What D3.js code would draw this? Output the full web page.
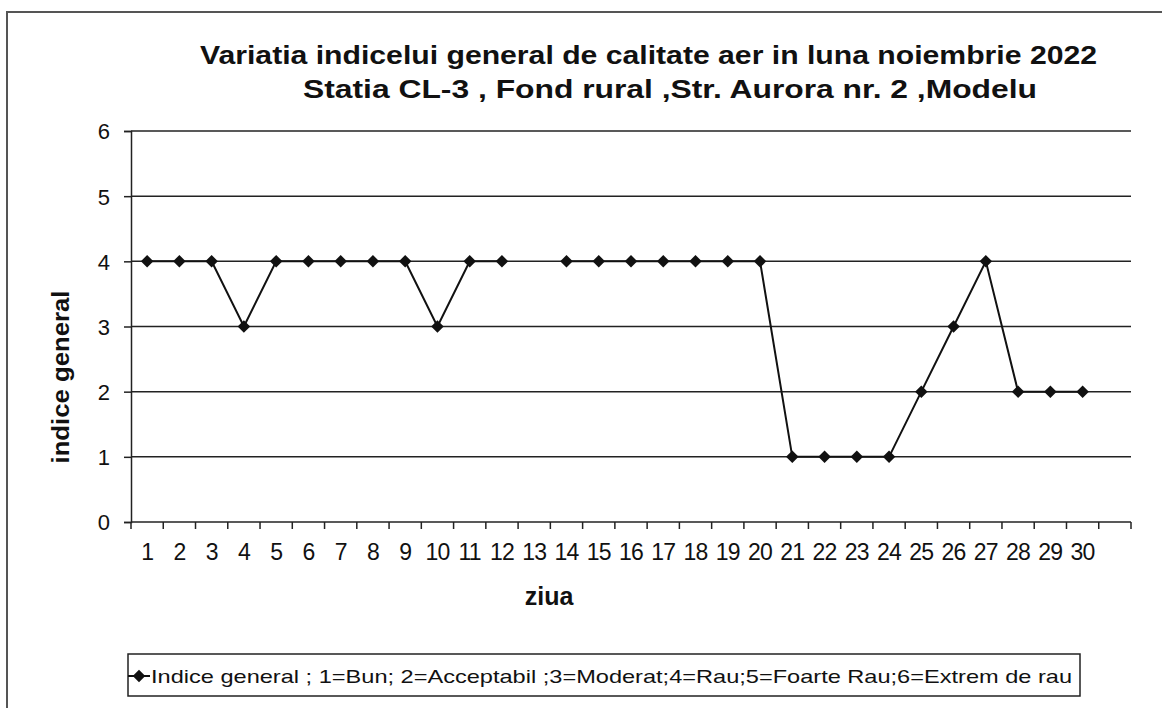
<!DOCTYPE html>
<html>
<head>
<meta charset="utf-8">
<script src="https://cdn.jsdelivr.net/npm/d3@7"></script>
<style>
  body { margin: 0; background: #fff; }
  text { font-family: "Liberation Sans", Arial, sans-serif; fill: #111; }
</style>
</head>
<body>
<div id="vis"></div>
<script>
// days of november (one empty slot at the end, like the excel sheet)
var days = ["1","2","3","4","5","6","7","8","9","10","11","12","13","14","15",
            "16","17","18","19","20","21","22","23","24","25","26","27","28","29","30",""];
// general index per day, day 13 has no data
var indice = [4,4,4,3,4,4,4,4,4,3,4,4,null,4,4,4,4,4,4,4,1,1,1,1,2,3,4,2,2,2];
var yTicks = [0,1,2,3,4,5,6];
var titleLines = ["Variatia indicelui general de calitate aer in luna noiembrie 2022",
                  "Statia CL-3 , Fond rural ,Str. Aurora nr. 2 ,Modelu"];
var legendText = "Indice  general ; 1=Bun; 2=Acceptabil ;3=Moderat;4=Rau;5=Foarte Rau;6=Extrem de rau";

var width = 1162, height = 708;
var margin = { top: 131, left: 131, bottom: 186, right: 31 };

var svg = d3.select('#vis').append('svg')
    .attr('width', width)
    .attr('height', height);

// outer frame of the chart area
svg.append('rect')
    .attr('x', 7).attr('y', 12)
    .attr('width', 1200).attr('height', 800)
    .style('fill', 'none')
    .style('stroke', '#555')
    .style('stroke-width', 2);

var x = d3.scaleBand()
    .domain(days)
    .range([margin.left, width - margin.right]);

var y = d3.scaleLinear()
    .domain([0, 6])
    .range([height - margin.bottom, margin.top]);

// gridlines
svg.append('g')
    .selectAll('line')
    .data(yTicks.filter(function (d) { return d > 0; }))
    .enter().append('line')
    .attr('x1', margin.left)
    .attr('x2', width - margin.right)
    .attr('y1', function (d) { return y(d); })
    .attr('y2', function (d) { return y(d); })
    .style('stroke', '#222')
    .style('stroke-width', 1.5);

// y axis
var yAxis = svg.append('g')
    .attr('transform', 'translate(' + margin.left + ',0)')
    .call(d3.axisLeft(y).tickValues(yTicks).tickSize(7).tickPadding(14).tickFormat(d3.format('d')));
yAxis.select('.domain').style('stroke', '#222').style('stroke-width', 1.5);
yAxis.selectAll('.tick line').style('stroke', '#222').style('stroke-width', 1.5);
yAxis.selectAll('text')
    .style('font-size', '22px')
    .attr('dy', '0.36em');

// x axis, ticks between categories
var bounds = d3.range(days.length + 1).map(function (i) {
  return margin.left + i * x.step();
});
var xg = svg.append('g');
xg.append('line')
    .attr('x1', margin.left)
    .attr('x2', width - margin.right)
    .attr('y1', y(0)).attr('y2', y(0))
    .style('stroke', '#222')
    .style('stroke-width', 1.5);
xg.selectAll('.tk')
    .data(bounds)
    .enter().append('line')
    .attr('class', 'tk')
    .attr('x1', function (d) { return d; })
    .attr('x2', function (d) { return d; })
    .attr('y1', y(0)).attr('y2', y(0) + 7)
    .style('stroke', '#222')
    .style('stroke-width', 1.5);
xg.selectAll('.lbl')
    .data(days)
    .enter().append('text')
    .attr('class', 'lbl')
    .attr('x', function (d) { return x(d) + x.bandwidth() / 2; })
    .attr('y', y(0) + 38)
    .attr('text-anchor', 'middle')
    .style('font-size', '23px')
    .style('letter-spacing', '-0.8px')
    .text(function (d) { return d; });

// series
var line = d3.line()
    .defined(function (d) { return d != null; })
    .x(function (d, i) { return x(days[i]) + x.bandwidth() / 2; })
    .y(function (d) { return y(d); });

svg.append('path')
    .datum(indice)
    .attr('d', line)
    .style('fill', 'none')
    .style('stroke', '#111')
    .style('stroke-width', 2);

var diamond = d3.symbol().type(d3.symbolDiamond2).size(100);
svg.append('g')
    .selectAll('path')
    .data(indice.map(function (v, i) { return { v: v, i: i }; })
                .filter(function (d) { return d.v != null; }))
    .enter().append('path')
    .attr('d', diamond)
    .attr('transform', function (d) {
      return 'translate(' + (x(days[d.i]) + x.bandwidth() / 2) + ',' + y(d.v) + ')';
    })
    .style('fill', '#111');

// titles
var titleX = [200, 303], titleW = [897, 734];
svg.append('g')
    .selectAll('text')
    .data(titleLines)
    .enter().append('text')
    .attr('x', function (d, i) { return titleX[i]; })
    .attr('y', function (d, i) { return 64 + i * 34; })
    .attr('textLength', function (d, i) { return titleW[i]; })
    .attr('lengthAdjust', 'spacingAndGlyphs')
    .style('font-size', '25px')
    .style('font-weight', 'bold')
    .text(function (d) { return d; });

svg.append('text')
    .attr('transform', 'translate(69,377) rotate(-90)')
    .attr('text-anchor', 'middle')
    .attr('textLength', 173)
    .attr('lengthAdjust', 'spacingAndGlyphs')
    .style('font-size', '23px')
    .style('font-weight', 'bold')
    .text('indice general');

svg.append('text')
    .attr('x', 549)
    .attr('y', 605)
    .attr('text-anchor', 'middle')
    .style('font-size', '25px')
    .style('font-weight', 'bold')
    .text('ziua');

// legend
var lg = svg.append('g');
lg.append('rect')
    .attr('x', 128).attr('y', 654)
    .attr('width', 952).attr('height', 42)
    .style('fill', '#fff')
    .style('stroke', '#222')
    .style('stroke-width', 1.5);
lg.append('line')
    .attr('x1', 128).attr('x2', 150)
    .attr('y1', 676).attr('y2', 676)
    .style('stroke', '#111')
    .style('stroke-width', 2);
lg.append('path')
    .attr('d', diamond)
    .attr('transform', 'translate(139,676)')
    .style('fill', '#111');
lg.append('text')
    .attr('x', 151)
    .attr('y', 683)
    .style('font-size', '19px')
    .attr('textLength', 921)
    .attr('lengthAdjust', 'spacingAndGlyphs')
    .text(legendText);
</script>
</body>
</html>
